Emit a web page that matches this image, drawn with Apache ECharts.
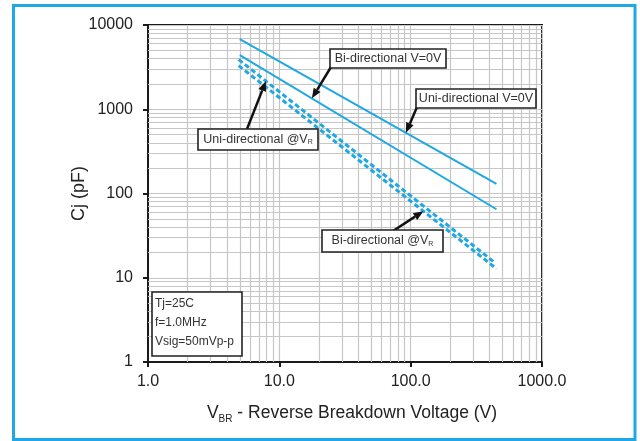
<!DOCTYPE html>
<html>
<head>
<meta charset="utf-8">
<script src="https://cdn.jsdelivr.net/npm/echarts@6/dist/echarts.min.js"></script>
<style>
  html, body { margin: 0; padding: 0; background: #ffffff; }
  #chart { width: 640px; height: 441px; }
</style>
</head>
<body>
<div id="chart"></div>
<script>
// Junction capacitance vs. reverse breakdown voltage (log-log)
const xTicks = [1, 10, 100, 1000];
const yTicks = [1, 10, 100, 1000, 10000];

// Each curve is a straight line on log-log axes: [V_BR, Cj] end points
const uniZeroV = [[5.0, 6800], [450, 130]];
const biZeroV = [[5.0, 4400], [450, 65]];
const uniAtVR = [[4.9, 3900], [440, 15]];
const biAtVR = [[4.9, 3300], [450, 12.8]];

// Minor grid positions inside each decade
const xMinor = [2, 3, 4, 5, 6, 7, 8, 9, 20, 30, 40, 50, 60, 70, 80, 90, 200, 300, 400, 500, 600, 700, 800, 900];
const yMinor = [2, 3, 4, 5, 6, 7, 8, 9, 20, 30, 40, 50, 60, 70, 80, 90, 200, 300, 400, 500, 600, 700, 800, 900,
  2000, 3000, 4000, 5000, 6000, 7000, 8000, 9000];

const conditions = ['Tj=25C', 'f=1.0MHz', 'Vsig=50mVp-p'];

const FONT = '"Liberation Sans", Arial, sans-serif';
const LINE_BLUE = '#1fa8e2';
const GRID_GRAY = '#c6c6c6';

const X_MIN = 1, X_MAX = 1000, Y_MIN = 1, Y_MAX = 10000;

const chart = echarts.init(document.getElementById('chart'), null, { renderer: 'canvas' });

// minor grid segments spanning the full plot
const minorSegments = xMinor.map(v => ({ coords: [[v, Y_MIN], [v, Y_MAX]] }))
  .concat(yMinor.map(v => ({ coords: [[X_MIN, v], [X_MAX, v]] })));

chart.setOption({
  animation: false,
  backgroundColor: '#ffffff',
  textStyle: { fontFamily: FONT },
  grid: {
    left: 148, top: 25, right: 98, bottom: 79,
    show: true, borderColor: '#1a1a1a', borderWidth: 2, backgroundColor: 'transparent'
  },
  xAxis: {
    type: 'log', logBase: 10, min: X_MIN, max: X_MAX,
    name: '{v|V}{sub|BR}{t| - Reverse Breakdown Voltage (V)}',
    nameLocation: 'middle', nameGap: 41, nameMoveOverlap: false,
    nameTextStyle: {
      padding: [0, 0, 0, 14],
      rich: {
        v: { fontSize: 17.5, color: '#222', fontFamily: FONT },
        sub: { fontSize: 10, color: '#222', fontFamily: FONT, verticalAlign: 'bottom', padding: [11, 0, 0, 0] },
        t: { fontSize: 17.5, color: '#222', fontFamily: FONT }
      }
    },
    axisLine: { show: true, lineStyle: { color: '#1a1a1a', width: 2 } },
    axisTick: { show: true, inside: false, length: 5, lineStyle: { color: '#1a1a1a', width: 2 } },
    axisLabel: {
      fontSize: 16, color: '#222', margin: 12, fontFamily: FONT,
      formatter: v => (xTicks.includes(v) ? v.toFixed(1) : '')
    },
    splitLine: { show: true, lineStyle: { color: GRID_GRAY, width: 1.2 } }
  },
  yAxis: {
    type: 'log', logBase: 10, min: Y_MIN, max: Y_MAX,
    name: 'Cj (pF)', nameLocation: 'middle', nameGap: 60, nameRotate: 90, nameMoveOverlap: false,
    nameTextStyle: { fontSize: 18, color: '#222', fontFamily: FONT },
    axisLine: { show: true, lineStyle: { color: '#1a1a1a', width: 2 } },
    axisTick: { show: true, inside: false, length: 5, lineStyle: { color: '#1a1a1a', width: 2 } },
    axisLabel: {
      fontSize: 16, color: '#222', margin: 15, fontFamily: FONT,
      formatter: v => (yTicks.includes(v) ? String(v) : '')
    },
    splitLine: { show: true, lineStyle: { color: GRID_GRAY, width: 1.2 } }
  },
  series: [
    {
      name: 'minor grid', type: 'lines', coordinateSystem: 'cartesian2d', silent: true, z: 1,
      lineStyle: { color: GRID_GRAY, width: 1.2, opacity: 1, curveness: 0 },
      data: minorSegments
    },
    {
      name: 'Uni-directional V=0V', type: 'line', data: uniZeroV, showSymbol: false, z: 3,
      lineStyle: { color: LINE_BLUE, width: 2 }
    },
    {
      name: 'Bi-directional V=0V', type: 'line', data: biZeroV, showSymbol: false, z: 3,
      lineStyle: { color: LINE_BLUE, width: 2 }
    },
    {
      name: 'Uni-directional @VR', type: 'line', data: uniAtVR, showSymbol: false, z: 3,
      lineStyle: { color: LINE_BLUE, width: 3, type: [5, 3] }
    },
    {
      name: 'Bi-directional @VR', type: 'line', data: biAtVR, showSymbol: false, z: 3,
      lineStyle: { color: LINE_BLUE, width: 3, type: [5, 3] }
    }
  ]
});

// Point on a log-log straight line at a given voltage
function onCurve(curve, v) {
  const lx0 = Math.log10(curve[0][0]), ly0 = Math.log10(curve[0][1]);
  const lx1 = Math.log10(curve[1][0]), ly1 = Math.log10(curve[1][1]);
  const ly = ly0 + (ly1 - ly0) * (Math.log10(v) - lx0) / (lx1 - lx0);
  return chart.convertToPixel({ gridIndex: 0 }, [v, Math.pow(10, ly)]);
}

function arrow(from, to) {
  const dx = to[0] - from[0], dy = to[1] - from[1];
  const len = Math.hypot(dx, dy);
  const ux = dx / len, uy = dy / len;
  const head = 10, half = 4;
  const bx = to[0] - ux * head, by = to[1] - uy * head;
  return [
    {
      type: 'line', z: 50,
      shape: { x1: from[0], y1: from[1], x2: bx, y2: by },
      style: { stroke: '#111', lineWidth: 2.5 }
    },
    {
      type: 'polygon', z: 50,
      shape: { points: [to, [bx - uy * half, by + ux * half], [bx + uy * half, by - ux * half]] },
      style: { fill: '#111' }
    }
  ];
}

function labelBox(x, y, w, h, text) {
  return [
    { type: 'rect', z: 60, shape: { x: x, y: y, width: w, height: h },
      style: { fill: '#fff', stroke: '#222', lineWidth: 1.6 } },
    { type: 'text', z: 61, x: x + w / 2, y: y + h / 2,
      style: {
        text: text, align: 'center', verticalAlign: 'middle',
        font: '12.5px ' + FONT, fill: '#333',
        rich: {
          n: { font: '12.5px ' + FONT, fill: '#333' },
          s: { font: '7px ' + FONT, fill: '#333', verticalAlign: 'bottom', padding: [6, 0, 0, 0] }
        }
      } }
  ];
}

const graphics = [];
// outer frame
graphics.push({
  type: 'rect', z: 100, silent: true,
  shape: { x: 13.5, y: 5.5, width: 621.5, height: 434 },
  style: { fill: 'none', stroke: '#1ea9e6', lineWidth: 3 }
});

graphics.push(...arrow([331, 67], onCurve(biZeroV, 17.7)));
graphics.push(...arrow([417, 107], onCurve(uniZeroV, 92)));
graphics.push(...arrow([247, 129], onCurve(uniAtVR, 7.9)));
graphics.push(...arrow([393, 231], onCurve(biAtVR, 125)));

graphics.push(...labelBox(330, 49, 116, 19, '{n|Bi-directional V=0V}'));
graphics.push(...labelBox(416, 89, 120, 19, '{n|Uni-directional V=0V}'));
graphics.push(...labelBox(198, 129, 120, 21, '{n|Uni-directional @V}{s|R}'));
graphics.push(...labelBox(322, 230, 121, 22, '{n|Bi-directional @V}{s|R}'));

// test conditions box
graphics.push({
  type: 'rect', z: 60, shape: { x: 152, y: 292, width: 90, height: 64 },
  style: { fill: '#fff', stroke: '#222', lineWidth: 1.6 }
});
conditions.forEach((t, i) => {
  graphics.push({
    type: 'text', z: 61, x: 155, y: 304 + i * 19,
    style: { text: t, align: 'left', verticalAlign: 'middle', font: '12px ' + FONT, fill: '#333' }
  });
});

chart.setOption({ graphic: graphics });
</script>
</body>
</html>
